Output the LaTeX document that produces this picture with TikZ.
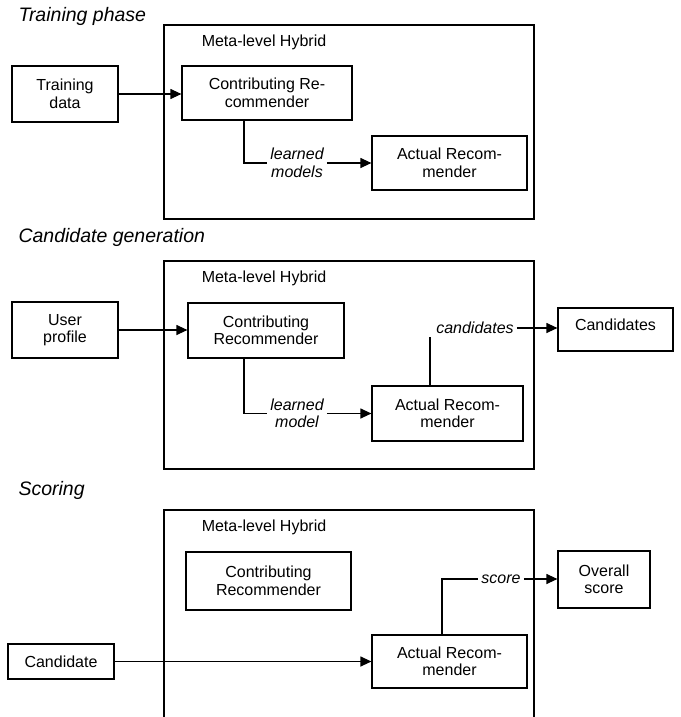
\documentclass[tikz,border=0pt]{standalone}
\usepackage{fontspec}
\setmainfont{Liberation Sans}
\usepackage{tikz}
\usetikzlibrary{arrows.meta,positioning,calc}
\tikzset{
    % Define standard arrow tip
    >={Triangle[length=11pt,width=10pt]},
    % box style
    ruta/.style={
           draw,
           line width=1.2pt,
           inner sep=0pt,
           align=center,
           font=\fontsize{16}{17.5}\selectfont,
           },
    rubrik/.style={
           anchor=west,
           font=\fontsize{19.5}{22}\selectfont\itshape,
           },
    skylt/.style={
           font=\fontsize{16}{17.5}\selectfont,
           },
    etikett/.style={
           align=center,
           inner sep=3pt,
           font=\fontsize{16}{17.5}\selectfont\itshape,
           },
    % Define arrow style
    pil/.style={
           ->,
           line width=1.2pt,
           },
    led/.style={
           line width=1.2pt,
           }
}
\begin{document}
\begin{tikzpicture}[x=1pt,y=-1pt]
  	\useasboundingbox (0,0) rectangle (680,717);
  	% Training phase
  	\node (t1) at (15,16) [rubrik] {Training phase};
  	\draw [led] (164,25) rectangle (534,219);
  	\node (m1) at (264,42) [skylt] {Meta-level Hybrid};
  	\node (train) at (65,94) [ruta,minimum width=106pt,minimum height=56pt] {Training\\data};
  	\node (contrib1) at (267,93) [ruta,minimum width=170pt,minimum height=54pt] {Contributing Re-\\commender};
  	\node (actual1) at (449.5,163) [ruta,minimum width=155pt,minimum height=54pt] {Actual Recom-\\mender};
  	\node (lm1) at (297,163) [etikett] {learned\\models};
  	\draw [pil] (train) -- (contrib1.west |- train);
  	\draw [led] ([xshift=-23pt]contrib1.south) |- (lm1.west);
  	\draw [pil] (lm1.east) -- (actual1.west);
  	% Candidate generation
  	\node (t2) at (15,237) [rubrik] {Candidate generation};
  	\draw [led] (164,261) rectangle (534,469);
  	\node (m2) at (264,278) [skylt] {Meta-level Hybrid};
  	\node (user) at (65,330) [ruta,minimum width=106pt,minimum height=56pt] {User\\profile};
  	\node (contrib2) at (266,330.5) [ruta,minimum width=156pt,minimum height=55pt] {Contributing\\Recommender};
  	\node (actual2) at (447.5,413.5) [ruta,minimum width=151pt,minimum height=55pt] {Actual Recom-\\mender};
  	\node (lm2) at (297,413.5) [etikett] {learned\\model};
  	\node (cand) at (475,328) [etikett] {candidates};
  	\node (cands) at (615.5,329.5) [ruta,minimum width=115pt,minimum height=43pt,text depth=10pt] {Candidates};
  	\draw [pil] (user) -- (contrib2.west |- user);
  	\draw [led] ([xshift=-22pt]contrib2.south) |- (lm2.west);
  	\draw [pil] (lm2.east) -- (actual2.west);
  	\draw [led] ([xshift=-17.5pt]actual2.north) -- ([xshift=-17.5pt]actual2.north |- cand.south);
  	\draw [pil] (cand.east) -- (cands.west |- cand.east);
  	% Scoring
  	\node (t3) at (15,490) [rubrik] {Scoring};
  	\draw [led] (164,717) -- (164,510) -- (534,510) -- (534,717);
  	\node (m3) at (264,527) [skylt] {Meta-level Hybrid};
  	\node (contrib3) at (268.5,581) [ruta,minimum width=165pt,minimum height=58pt] {Contributing\\Recommender};
  	\node (cand3) at (61,661.5) [ruta,minimum width=106pt,minimum height=35pt] {Candidate};
  	\node (actual3) at (449.5,661.5) [ruta,minimum width=155pt,minimum height=53pt] {Actual Recom-\\mender};
  	\node (sc) at (501,579) [etikett] {score};
  	\node (overall) at (604,579.5) [ruta,minimum width=92pt,minimum height=57pt] {Overall\\score};
  	\draw [pil] (cand3) -- (actual3);
  	\draw [led] ([xshift=-7.5pt]actual3.north) |- (sc.west);
  	\draw [pil] (sc.east) -- (overall.west |- sc.east);
\end{tikzpicture}
\end{document}
